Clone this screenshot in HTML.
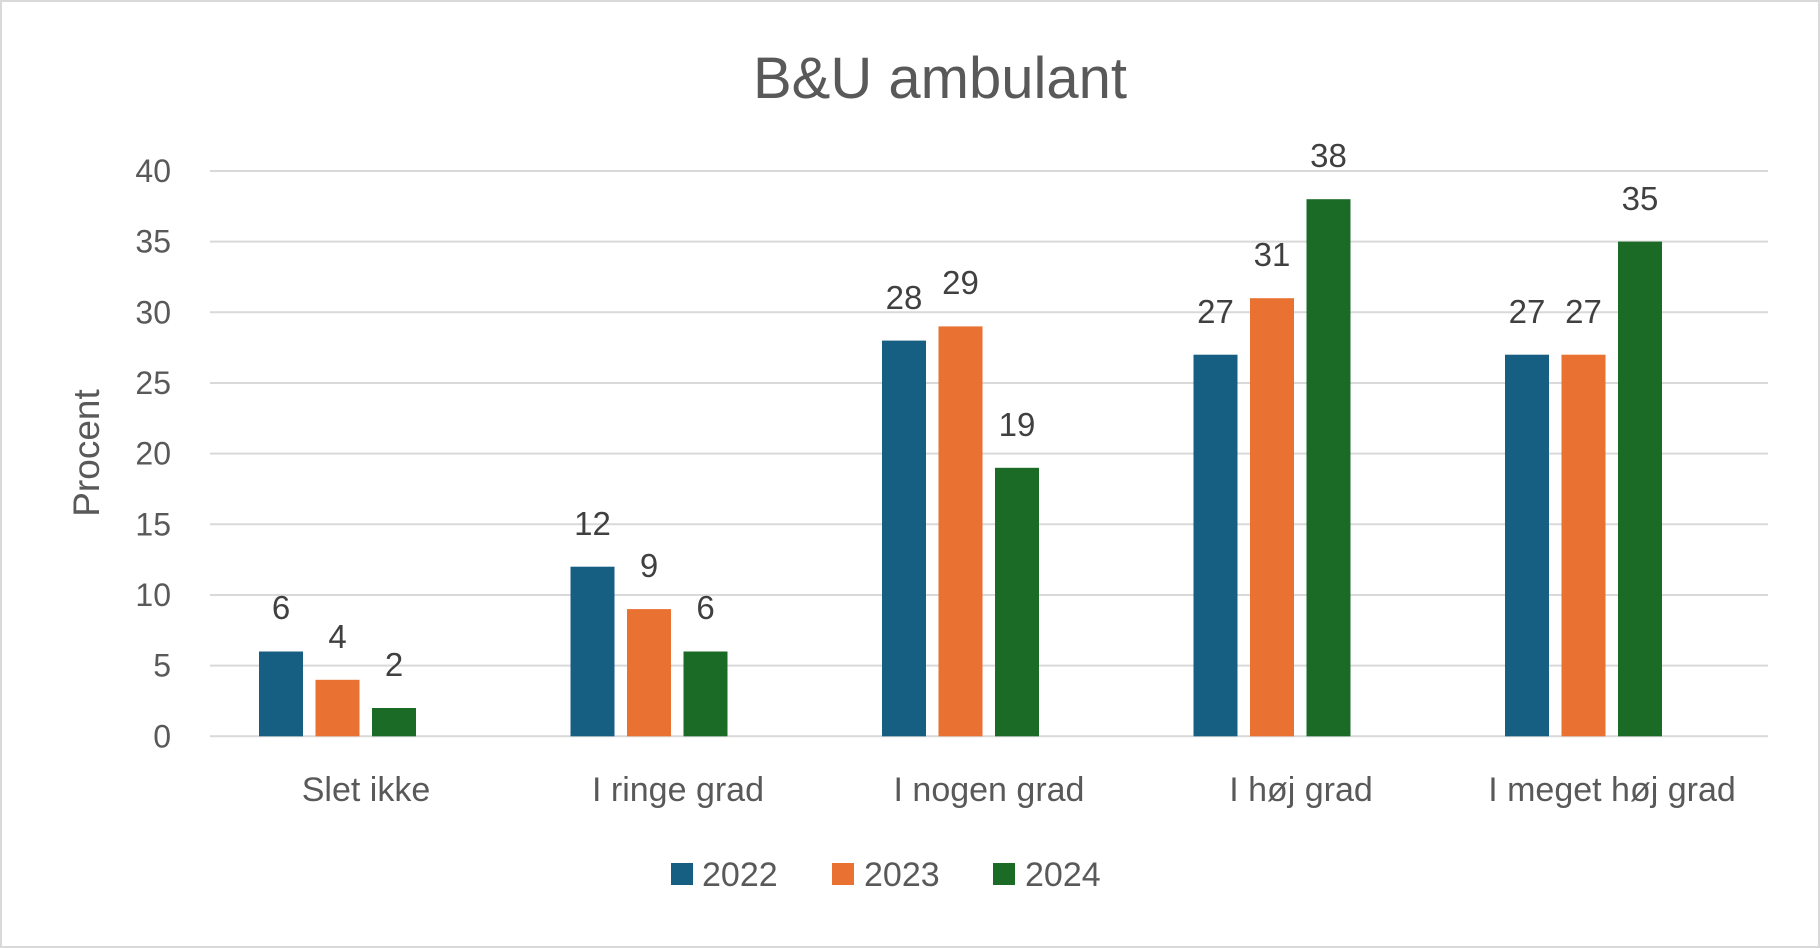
<!DOCTYPE html>
<html><head><meta charset="utf-8"><style>
html,body{margin:0;padding:0;background:#fff}
svg{display:block}
text{font-family:"Liberation Sans",sans-serif;fill:#595959}
.v{fill:#404040;font-size:33px;text-anchor:middle}
</style></head><body>
<svg width="1820" height="948" viewBox="0 0 1820 948" xmlns="http://www.w3.org/2000/svg">
<rect x="1" y="1" width="1818" height="946" fill="#fff" stroke="#d9d9d9" stroke-width="2"/>
<text x="940" y="98" font-size="58" text-anchor="middle">B&amp;U ambulant</text>
<g stroke="#d9d9d9" stroke-width="2">
<line x1="210" x2="1768" y1="171" y2="171"/>
<line x1="210" x2="1768" y1="241.6" y2="241.6"/>
<line x1="210" x2="1768" y1="312.3" y2="312.3"/>
<line x1="210" x2="1768" y1="383" y2="383"/>
<line x1="210" x2="1768" y1="453.6" y2="453.6"/>
<line x1="210" x2="1768" y1="524.3" y2="524.3"/>
<line x1="210" x2="1768" y1="595" y2="595"/>
<line x1="210" x2="1768" y1="665.6" y2="665.6"/>
<line x1="210" x2="1768" y1="736.3" y2="736.3"/>
</g>
<g font-size="32" text-anchor="end">
<text x="171" y="182">40</text>
<text x="171" y="252.6">35</text>
<text x="171" y="323.3">30</text>
<text x="171" y="394">25</text>
<text x="171" y="464.6">20</text>
<text x="171" y="535.3">15</text>
<text x="171" y="606">10</text>
<text x="171" y="676.6">5</text>
<text x="171" y="747.3">0</text>
</g>
<text transform="translate(99,453) rotate(-90)" font-size="37" text-anchor="middle">Procent</text>

<rect x="259" y="651.5" width="44" height="84.8" fill="#175f82"/>
<rect x="315.5" y="679.8" width="44" height="56.5" fill="#e97132"/>
<rect x="372" y="708" width="44" height="28.3" fill="#1b6b27"/>
<rect x="570.5" y="566.7" width="44" height="169.6" fill="#175f82"/>
<rect x="627" y="609.1" width="44" height="127.2" fill="#e97132"/>
<rect x="683.5" y="651.5" width="44" height="84.8" fill="#1b6b27"/>
<rect x="882" y="340.6" width="44" height="395.7" fill="#175f82"/>
<rect x="938.5" y="326.4" width="44" height="409.9" fill="#e97132"/>
<rect x="995" y="467.8" width="44" height="268.5" fill="#1b6b27"/>
<rect x="1193.5" y="354.7" width="44" height="381.6" fill="#175f82"/>
<rect x="1250" y="298.2" width="44" height="438.1" fill="#e97132"/>
<rect x="1306.5" y="199.2" width="44" height="537.1" fill="#1b6b27"/>
<rect x="1505" y="354.7" width="44" height="381.6" fill="#175f82"/>
<rect x="1561.5" y="354.7" width="44" height="381.6" fill="#e97132"/>
<rect x="1618" y="241.6" width="44" height="494.7" fill="#1b6b27"/>

<text class="v" x="281" y="619">6</text>
<text class="v" x="337.5" y="648">4</text>
<text class="v" x="394" y="676">2</text>
<text class="v" x="592.5" y="535">12</text>
<text class="v" x="649" y="577">9</text>
<text class="v" x="705.5" y="619">6</text>
<text class="v" x="904" y="309">28</text>
<text class="v" x="960.5" y="294">29</text>
<text class="v" x="1017" y="436">19</text>
<text class="v" x="1215.5" y="323">27</text>
<text class="v" x="1272" y="266">31</text>
<text class="v" x="1328.5" y="167">38</text>
<text class="v" x="1527" y="323">27</text>
<text class="v" x="1583.5" y="323">27</text>
<text class="v" x="1640" y="210">35</text>

<g font-size="34" text-anchor="middle">
<text x="366" y="801">Slet ikke</text>
<text x="678" y="801">I ringe grad</text>
<text x="989" y="801">I nogen grad</text>
<text x="1301" y="801">I høj grad</text>
<text x="1612" y="801">I meget høj grad</text>
</g>
<rect x="671" y="863" width="22" height="22" fill="#175f82"/>
<rect x="832" y="863" width="22" height="22" fill="#e97132"/>
<rect x="993" y="863" width="22" height="22" fill="#1b6b27"/>
<g font-size="34">
<text x="702" y="886">2022</text>
<text x="864" y="886">2023</text>
<text x="1025" y="886">2024</text>
</g>
</svg>
</body></html>
